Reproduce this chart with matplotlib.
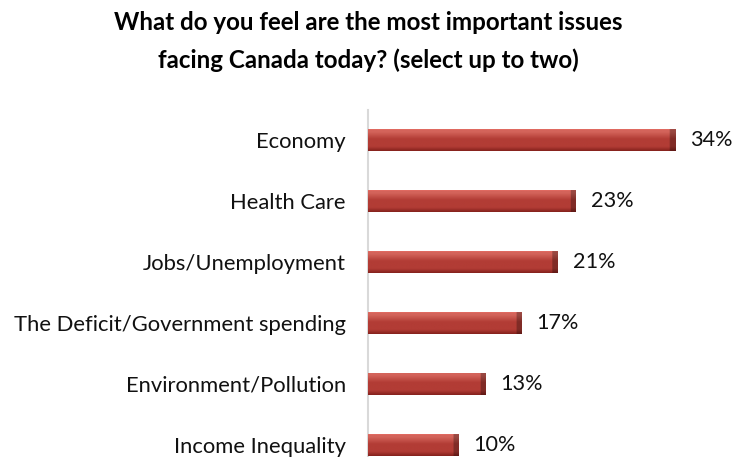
import matplotlib
matplotlib.use("Agg")
import matplotlib.pyplot as plt
import numpy as np
from matplotlib.colors import to_rgb

categories = ["Economy", "Health Care", "Jobs/Unemployment",
              "The Deficit/Government spending", "Environment/Pollution",
              "Income Inequality"]
values = [34, 23, 21, 17, 13, 10]

W, H = 737, 457
fig = plt.figure(figsize=(W / 100, H / 100), dpi=100)
ax_left, ax_top, ax_bottom = 368, 110, 457
px_per_unit = 9.03
xmax = 40
ax = fig.add_axes([ax_left / W, (H - ax_bottom) / H,
                   xmax * px_per_unit / W, (ax_bottom - ax_top) / H])

spacing = 61.0
ylim = (5 + 12 / spacing, -30 / spacing)

bar_h = 22 / spacing
ypos = np.arange(len(categories))
bars = ax.barh(ypos, values, height=bar_h, color="#A8322C", edgecolor="none", zorder=2)

# bevel gradient (vertical) with darkened right end
top_c = np.array(to_rgb("#D4645B"))
mid_c = np.array(to_rgb("#B23C35"))
bot_c = np.array(to_rgb("#86221D"))
ny = 40
t = np.linspace(0, 1, ny)
col = np.zeros((ny, 3))
for k, tt in enumerate(t):
    if tt < 0.12:
        c = top_c
    elif tt < 0.45:
        f = (tt - 0.12) / 0.33
        c = top_c * (1 - f) + mid_c * f
    elif tt < 0.8:
        c = mid_c
    else:
        f = (tt - 0.8) / 0.2
        c = mid_c * (1 - f) + bot_c * f
    col[k] = c

for b, v in zip(bars, values):
    nx = 200
    img = np.repeat(col[:, None, :], nx, axis=1)
    bevel_units = 5 / px_per_unit
    xs = np.linspace(0, v, nx)
    mask = xs > v - bevel_units
    img[:, mask, :] = img[:, mask, :] * 0.72
    img[0, :, :] = np.clip(img[0, :, :] * 1.1, 0, 1)
    y0 = b.get_y()
    im = ax.imshow(img, extent=(0, v, y0 + bar_h, y0), aspect="auto",
                   interpolation="bilinear", zorder=3)
    im.set_clip_path(b)
    ax.text(v + 15 / px_per_unit, b.get_y() + bar_h / 2, f"{v}%",
            va="center", ha="left", fontsize=15.6, family="Lato", color="#111111")

ax.set_ylim(*ylim)
ax.set_xlim(0, xmax)

for s in ["top", "right", "bottom"]:
    ax.spines[s].set_visible(False)
ax.spines["left"].set_color("#D9D9D9")
ax.spines["left"].set_linewidth(1.5)
ax.set_xticks([])
ax.set_yticks(ypos)
ax.set_yticklabels(categories, fontsize=15.8, family="Lato", color="#111111")
ax.tick_params(axis="y", length=0, pad=16)

fig.text(368 / W, 1 - 30 / H, "What do you feel are the most important issues",
         ha="center", va="baseline", fontsize=17.4, fontweight="bold", family="Lato", color="#000000")
fig.text(368 / W, 1 - 68 / H, "facing Canada today? (select up to two)",
         ha="center", va="baseline", fontsize=17.4, fontweight="bold", family="Lato", color="#000000")

fig.savefig("out.png", dpi=100)
